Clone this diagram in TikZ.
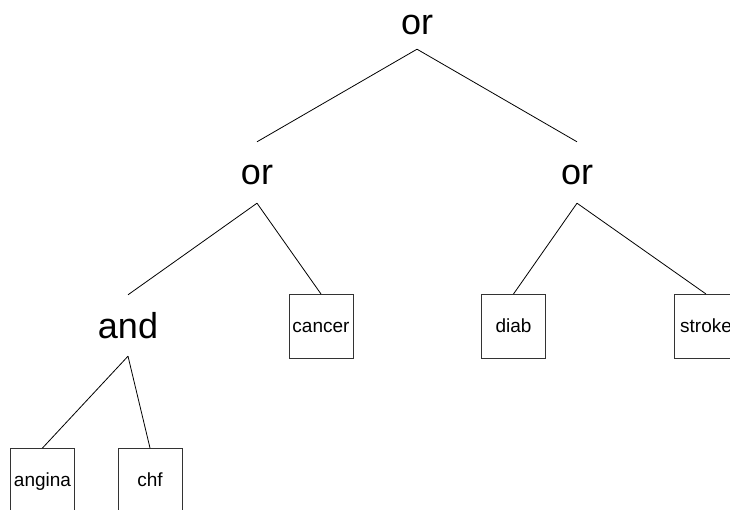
\documentclass[tikz,border=0pt]{standalone}
\usepackage{fontspec}
\setmainfont{Liberation Sans}
\begin{document}
\begin{tikzpicture}[x=1pt,y=-1pt,
  opnode/.style={anchor=base, font=\fontsize{36}{40}\selectfont,
    text height=25pt, text depth=0pt, inner xsep=2pt, inner ysep=18pt},
  leaf/.style={anchor=north, draw=black!80, line width=0.8pt,
    minimum width=64pt, minimum height=64pt, inner sep=0pt,
    font=\fontsize{19}{22}\selectfont, text height=14pt, text depth=1pt},
  edge/.style={draw=black, line width=0.8pt}]
  \useasboundingbox (0,0) rectangle (730,510);
  \clip (0,0) rectangle (730,510);

  % operator nodes
  \node[opnode, inner ysep=14pt] (root) at (417,35) {or};
  \node[opnode] (orL) at (257,185) {or};
  \node[opnode] (orR) at (577,185) {or};
  \node[opnode] (and) at (128,338) {and};

  % leaves
  \node[leaf] (angina) at (42.5,448) {angina};
  \node[leaf] (chf) at (150,448) {chf};
  \node[leaf] (cancer) at (321,294) {cancer};
  \node[leaf] (diab) at (513.5,294) {diab};
  \node[leaf] (stroke) at (706,294) {stroke};

  % connectors
  \draw[edge] (root.south) -- (orL.north);
  \draw[edge] (root.south) -- (orR.north);
  \draw[edge] (orL.south) -- (and.north);
  \draw[edge] (orL.south) -- (cancer.north);
  \draw[edge] (orR.south) -- (diab.north);
  \draw[edge] (orR.south) -- (stroke.north);
  \draw[edge] (and.south) -- (angina.north);
  \draw[edge] (and.south) -- (chf.north);
\end{tikzpicture}
\end{document}
